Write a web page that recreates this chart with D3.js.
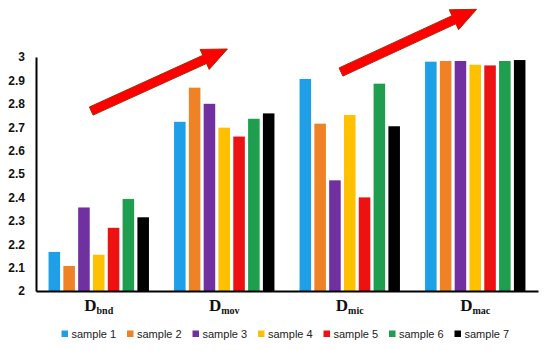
<!DOCTYPE html>
<html>
<head>
<meta charset="utf-8">
<script src="https://cdn.jsdelivr.net/npm/d3@7"></script>
<style>
  body { margin: 0; background: #fff; }
  svg { display: block; }
</style>
</head>
<body>
<div id="chart"></div>
<script>
// groups on the x axis (main letter + subscript)
var groups = ["bnd", "mov", "mic", "mac"];
var samples = ["sample 1", "sample 2", "sample 3", "sample 4", "sample 5", "sample 6", "sample 7"];
var colors = ["#1F9FE8", "#EF8225", "#7030A0", "#FFC000", "#EE1111", "#1E9E4E", "#000000"];

// one array per sample, values for bnd, mov, mic, mac
var sample1 = [2.167, 2.723, 2.906, 2.980];
var sample2 = [2.107, 2.869, 2.715, 2.983];
var sample3 = [2.357, 2.800, 2.473, 2.983];
var sample4 = [2.155, 2.698, 2.752, 2.967];
var sample5 = [2.270, 2.660, 2.400, 2.964];
var sample6 = [2.393, 2.736, 2.886, 2.983];
var sample7 = [2.315, 2.759, 2.704, 2.987];

var tickValues = [2, 2.1, 2.2, 2.3, 2.4, 2.5, 2.6, 2.7, 2.8, 2.9, 3];
var tickLabels = ["2", "2.1", "2.2", "2.3", "2.4", "2.5", "2.6", "2.7", "2.8", "2.9", "3"];

// trend arrows, in group units (x) and value units (y)
var arrows = [
  { x1: 0.44, y1: 2.769, x2: 1.525, y2: 3.034 },
  { x1: 2.43, y1: 2.936, x2: 3.511, y2: 3.204 }
];

var series = [sample1, sample2, sample3, sample4, sample5, sample6, sample7];

var width = 550, height = 350;
var margin = { top: 57, right: 12, bottom: 59, left: 36 };

var svg = d3.select("#chart").append("svg")
    .attr("width", width)
    .attr("height", height);

var x0 = d3.scaleBand()
    .domain(groups)
    .range([margin.left, width - margin.right])
    .paddingInner(0.2)
    .paddingOuter(0.1);

var x1 = d3.scaleBand()
    .domain(samples)
    .range([0, x0.bandwidth()])
    .paddingInner(0.22);

var y = d3.scaleLinear()
    .domain([2, 3])
    .range([height - margin.bottom, margin.top]);

// group units -> pixels, for the arrows
var xg = d3.scaleLinear()
    .domain([0, groups.length])
    .range([margin.left, width - margin.right]);

// bars
var gGroups = svg.selectAll(".grp")
    .data(groups)
    .enter().append("g")
    .attr("class", "grp")
    .attr("transform", function(d) { return "translate(" + x0(d) + ",0)"; });

gGroups.selectAll("rect")
    .data(function(d, gi) {
      return samples.map(function(s, si) { return { s: s, si: si, v: series[si][gi] }; });
    })
    .enter().append("rect")
    .attr("x", function(d) { return x1(d.s); })
    .attr("width", x1.bandwidth())
    .attr("y", function(d) { return y(d.v); })
    .attr("height", function(d) { return y(2) - y(d.v); })
    .attr("fill", function(d) { return colors[d.si]; });

// y axis
var yaxis = d3.axisLeft(y)
    .tickValues(tickValues)
    .tickFormat(function(d, i) { return tickLabels[i]; })
    .tickSize(0)
    .tickPadding(11);

var gy = svg.append("g")
    .attr("transform", "translate(" + margin.left + ",0)")
    .call(yaxis);
gy.select(".domain").attr("stroke", "#000").attr("stroke-width", 2);
gy.selectAll("text")
    .attr("font-family", "Liberation Sans, Arial, sans-serif")
    .attr("font-size", "12px")
    .attr("font-weight", "bold")
    .attr("fill", "#111");

// x axis
var xaxis = d3.axisBottom(x0).tickSize(0).tickFormat("");
var gx = svg.append("g")
    .attr("transform", "translate(0," + y(2) + ")")
    .call(xaxis);
gx.select(".domain").attr("stroke", "#000").attr("stroke-width", 2);

var xlab = svg.selectAll(".xlab")
    .data(groups)
    .enter().append("text")
    .attr("class", "xlab")
    .attr("x", function(d) { return x0(d) + x0.bandwidth() / 2; })
    .attr("y", 311)
    .attr("text-anchor", "middle")
    .attr("font-family", "Liberation Serif, Times New Roman, serif")
    .attr("font-weight", "bold")
    .attr("fill", "#111");
xlab.append("tspan").attr("font-size", "17px").text("D");
xlab.append("tspan").attr("font-size", "10px").attr("dy", 2.5).text(function(d) { return d; });

// trend arrows
function arrowPath(a) {
  var tx = xg(a.x1), ty = y(a.y1), px = xg(a.x2), py = y(a.y2);
  var dx = px - tx, dy = py - ty, len = Math.sqrt(dx * dx + dy * dy);
  var ux = dx / len, uy = dy / len, nx = -uy, ny = ux;
  var w = 4.5, hw = 11, hl = 25;
  var bx = px - ux * hl, by = py - uy * hl;
  var pts = [
    [tx + nx * w, ty + ny * w],
    [bx + nx * w, by + ny * w],
    [bx + nx * hw, by + ny * hw],
    [px, py],
    [bx - nx * hw, by - ny * hw],
    [bx - nx * w, by - ny * w],
    [tx - nx * w, ty - ny * w]
  ];
  return "M" + pts.map(function(p) { return p[0].toFixed(1) + "," + p[1].toFixed(1); }).join("L") + "Z";
}

svg.selectAll(".arrow")
    .data(arrows)
    .enter().append("path")
    .attr("class", "arrow")
    .attr("d", arrowPath)
    .attr("fill", "#FF0000")
    .attr("stroke", "#A52A0A")
    .attr("stroke-width", 1);

// legend
var leg = svg.selectAll(".leg")
    .data(samples)
    .enter().append("g")
    .attr("class", "leg")
    .attr("transform", function(d, i) { return "translate(" + (61.5 + i * 65.5) + ",330.5)"; });
leg.append("rect")
    .attr("width", 6.5)
    .attr("height", 6.5)
    .attr("fill", function(d, i) { return colors[i]; });
leg.append("text")
    .attr("x", 10)
    .attr("y", 7.5)
    .attr("font-family", "Liberation Sans, Arial, sans-serif")
    .attr("font-size", "11px")
    .attr("fill", "#222")
    .text(function(d) { return d; });
</script>
</body>
</html>
